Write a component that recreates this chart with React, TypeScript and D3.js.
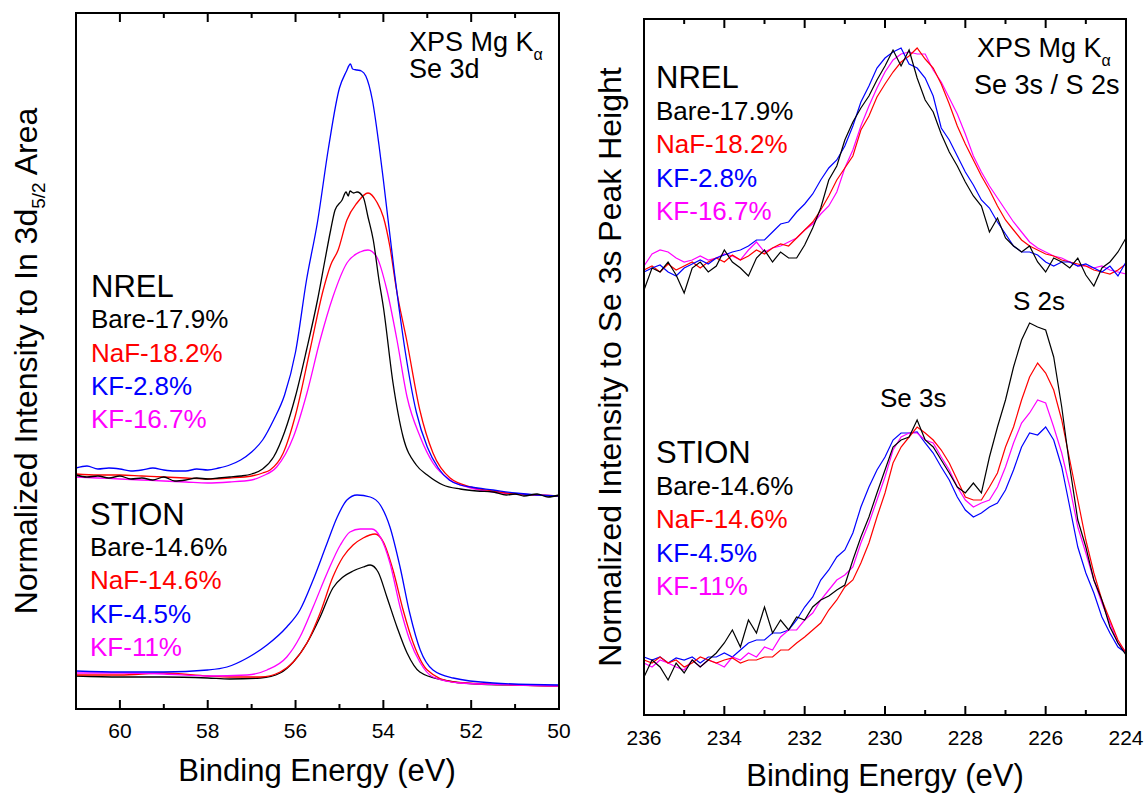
import React from "react";
import * as d3 from "d3";

const FONT = "Arial, 'Liberation Sans', Helvetica, sans-serif";
const C_BARE = "#000000";
const C_NAF = "#ff0000";
const C_KF_A = "#0000ff";
const C_KF_B = "#ff00ff";

// ---------- Left panel: Se 3d, [binding energy eV, normalized intensity (a.u., offset)] ----------
const nrelBare3d: [number, number][] = [
  [61, 234], [60.75, 232], [60.5, 233], [60.25, 231], [60, 233], [59.75, 230], [59.5, 231], [59.25, 229], [59, 232],
  [58.75, 228], [58.5, 229], [58.25, 231], [58, 230], [57.75, 231], [57.5, 232], [57.25, 233], [57, 235], [56.75, 240],
  [56.5, 252], [56.25, 277], [56, 313], [55.75, 359], [55.5, 409], [55.33, 449], [55.2, 479], [55.1, 499], [54.94, 509],
  [54.85, 517], [54.8, 513], [54.76, 518], [54.68, 516], [54.6, 517], [54.46, 512], [54.35, 492], [54.23, 469], [54.1, 429],
  [54, 402], [53.78, 326], [53.55, 272], [53.25, 244], [53, 234], [52.64, 224], [52.25, 220], [51.87, 218], [51.5, 217],
  [51.2, 214], [51, 215], [50.8, 213], [50.5, 215], [50.25, 212], [50, 214],
];
const nrelNaF3d: [number, number][] = [
  [61, 235], [60.5, 234], [60, 234], [59.5, 233], [59, 232], [58.5, 231], [58, 230], [57.5, 231], [57, 233], [56.75, 236],
  [56.58, 239], [56.28, 256], [56, 294], [55.67, 359], [55.37, 419], [55.2, 444], [55.03, 459], [54.83, 489], [54.6, 506],
  [54.35, 516], [54.15, 507], [54, 492], [53.85, 462], [53.7, 419], [53.47, 369], [53.17, 299], [52.87, 256], [52.48, 231],
  [52, 222], [51.5, 218], [51, 215], [50.5, 214], [50, 213],
];
const nrelKF28_3d: [number, number][] = [
  [61, 241], [60.75, 243], [60.5, 240], [60.25, 241], [60, 240], [59.75, 238], [59.5, 239], [59.25, 241], [59, 239],
  [58.75, 238], [58.5, 238], [58.25, 240], [58, 239], [57.75, 241], [57.5, 244], [57.25, 249], [57, 257], [56.75, 269],
  [56.5, 289], [56.25, 314], [56, 357], [55.75, 429], [55.5, 487], [55.25, 561], [55, 621], [54.85, 637], [54.75, 645],
  [54.7, 640], [54.6, 639], [54.5, 638], [54.4, 633], [54.25, 609], [54.1, 564], [54, 529], [53.75, 437], [53.5, 357],
  [53.25, 297], [53, 262], [52.75, 241], [52.5, 229], [52.25, 224], [52, 222], [51.5, 219], [51, 216], [50.5, 214], [50, 213],
];
const nrelKF167_3d: [number, number][] = [
  [61, 232], [60.5, 231], [60, 230], [59.5, 229], [59, 228], [58.5, 227], [58, 226], [57.5, 227], [57, 229], [56.75, 233],
  [56.43, 242], [56.05, 272], [55.74, 316], [55.44, 369], [55.15, 412], [54.83, 446], [54.53, 457], [54.35, 459], [54.15, 452],
  [53.92, 419], [53.69, 369], [53.46, 312], [53.16, 272], [52.87, 246], [52.48, 229], [52, 221], [51.5, 217], [51, 215],
  [50.5, 214], [50, 213],
];
const stionBare3d: [number, number][] = [
  [61, 33], [60, 32], [59, 32], [58, 31], [57.5, 30], [56.8, 31], [56.35, 36], [56.05, 47], [55.74, 66], [55.44, 92],
  [55.15, 121], [54.92, 132], [54.69, 138], [54.46, 142], [54.3, 144], [54.12, 137], [53.92, 112], [53.69, 82], [53.46, 56],
  [53.17, 37], [52.64, 29], [51.87, 25], [51, 24], [50, 23],
];
const stionNaF3d: [number, number][] = [
  [61, 34], [60, 34], [59, 36], [58, 33], [57.5, 32], [56.8, 32], [56.35, 37], [56.05, 47], [55.74, 66], [55.44, 96],
  [55.15, 132], [54.92, 152], [54.69, 164], [54.46, 171], [54.19, 175], [54, 167], [53.78, 139], [53.55, 99], [53.32, 66],
  [53, 39], [52.41, 27], [51, 24], [50, 23],
];
const stionKF45_3d: [number, number][] = [
  [61, 38], [60, 37], [59, 37], [58, 39], [57.56, 42], [57.1, 51], [56.65, 64], [56.2, 82], [55.9, 99], [55.6, 129],
  [55.28, 166], [55.05, 192], [54.83, 209], [54.6, 214], [54.3, 212], [54.07, 204], [53.85, 182], [53.62, 142], [53.4, 96],
  [53.16, 59], [52.87, 39], [52.41, 31], [51.5, 26], [50, 24],
];
const stionKF11_3d: [number, number][] = [
  [61, 36], [60, 36], [59, 35], [58, 33], [57.1, 34], [56.65, 39], [56.2, 52], [55.9, 72], [55.6, 102], [55.28, 136],
  [54.98, 164], [54.76, 177], [54.53, 180], [54.26, 180], [54.07, 172], [53.85, 146], [53.62, 102], [53.4, 69], [53.17, 47],
  [52.87, 32], [52.25, 26], [51, 24], [50, 23],
];

// ---------- Right panel: Se 3s / S 2s ----------
const energy3s = [
  236, 235.8, 235.6, 235.4, 235.2, 235, 234.8, 234.6, 234.4, 234.2, 234, 233.8, 233.6, 233.4, 233.2, 233, 232.8, 232.6,
  232.4, 232.2, 232, 231.8, 231.6, 231.4, 231.2, 231, 230.8, 230.6, 230.4, 230.2, 230, 229.8, 229.6, 229.4, 229.2, 229,
  228.8, 228.6, 228.4, 228.2, 228, 227.8, 227.6, 227.4, 227.2, 227, 226.8, 226.6, 226.4, 226.2, 226, 225.8, 225.6, 225.4,
  225.2, 225, 224.8, 224.6, 224.4, 224.2, 224,
];
const nrelBare3s = [
  425, 447, 443, 453, 440, 422, 447, 453, 443, 449, 465, 453, 447, 439, 457, 465, 453, 463, 457, 457,
  470, 487, 507, 535, 549, 575, 593, 607, 619, 635, 649, 665, 649, 665, 637, 615, 603, 581, 563, 549,
  533, 519, 509, 483, 497, 477, 469, 463, 469, 453, 443, 457, 453, 447, 457, 440, 429, 447, 453, 463, 477,
];
const nrelNaF3s = [
  445, 449, 443, 451, 445, 449, 453, 447, 453, 457, 453, 460, 455, 459, 465, 461, 467, 471, 469, 477,
  485, 493, 505, 519, 535, 547, 559, 585, 599, 618, 631, 643, 653, 659, 667, 656, 647, 631, 611, 589,
  571, 555, 539, 525, 509, 495, 485, 475, 469, 465, 461, 459, 455, 453, 451, 449, 445, 443, 441, 445, 451,
];
const nrelKF28_3s = [
  443, 447, 450, 443, 439, 447, 451, 455, 451, 457, 460, 463, 465, 469, 475, 475, 483, 491, 493, 503,
  511, 521, 535, 547, 555, 569, 589, 613, 629, 647, 657, 663, 667, 651, 647, 637, 619, 587, 575, 559,
  543, 530, 515, 507, 493, 481, 469, 463, 463, 460, 453, 449, 453, 453, 449, 451, 447, 443, 449, 439, 453,
];
const nrelKF167_3s = [
  449, 461, 465, 463, 457, 453, 455, 459, 455, 457, 461, 459, 455, 465, 473, 463, 467, 469, 473, 477,
  485, 491, 501, 509, 523, 547, 565, 589, 609, 627, 643, 655, 661, 663, 661, 661, 645, 633, 617, 601,
  581, 559, 543, 529, 517, 505, 493, 483, 473, 467, 463, 459, 457, 453, 449, 449, 447, 449, 445, 443, 441,
];
const stionBare3s = [
  38, 55, 48, 35, 52, 42, 55, 48, 55, 62, 72, 85, 68, 95, 82, 108, 82, 95, 85, 98,
  95, 108, 115, 119, 125, 130, 155, 178, 198, 222, 245, 268, 275, 278, 295, 275, 268, 255, 242, 228,
  222, 232, 222, 258, 288, 315, 348, 375, 392, 388, 385, 358, 308, 248, 195, 168, 135, 115, 88, 72, 60,
];
const stionNaF3s = [
  55, 52, 58, 52, 55, 48, 52, 58, 55, 52, 55, 57, 52, 55, 55, 58, 58, 65, 65, 72,
  78, 85, 92, 105, 115, 128, 135, 152, 172, 198, 222, 252, 268, 278, 288, 282, 275, 265, 252, 235,
  218, 215, 215, 228, 242, 268, 288, 315, 338, 352, 342, 325, 295, 255, 215, 175, 142, 115, 95, 75, 62,
];
const stionKF45_3s = [
  58, 55, 58, 52, 57, 55, 58, 52, 58, 58, 62, 58, 65, 72, 75, 75, 82, 82, 85, 95,
  108, 118, 135, 145, 158, 165, 182, 208, 228, 245, 258, 275, 282, 282, 283, 272, 262, 248, 235, 218,
  205, 198, 202, 208, 212, 225, 245, 268, 282, 280, 288, 275, 248, 208, 168, 142, 122, 98, 82, 68, 62,
];
const stionKF11_3s = [
  52, 48, 55, 52, 48, 45, 55, 48, 55, 52, 48, 58, 55, 62, 58, 68, 65, 78, 85, 85,
  95, 102, 115, 125, 135, 140, 148, 172, 192, 215, 238, 265, 278, 282, 282, 275, 272, 258, 245, 228,
  215, 208, 212, 215, 228, 248, 272, 292, 302, 315, 312, 288, 262, 228, 188, 162, 135, 112, 92, 72, 63,
];

// ---------- Axes / labels ----------
const leftMajorTicks = [60, 58, 56, 54, 52, 50];
const leftMinorTicks = [59, 57, 55, 53, 51];
const rightMajorTicks = [236, 234, 232, 230, 228, 226, 224];
const rightMinorTicks = [235, 233, 231, 229, 227, 225];

const nrelLabels = ["Bare-17.9%", "NaF-18.2%", "KF-2.8%", "KF-16.7%"];
const stionLabels = ["Bare-14.6%", "NaF-14.6%", "KF-4.5%", "KF-11%"];
const labelColors = [C_BARE, C_NAF, C_KF_A, C_KF_B];

type Scale = d3.ScaleLinear<number, number>;

function Frame({ x, y, majors, minors, labelY }: { x: Scale; y: Scale; majors: number[]; minors: number[]; labelY: number }) {
  const [x0, x1] = x.range();
  const [yb, yt] = y.range();
  return (
    <g>
      <rect x={x0} y={yt} width={x1 - x0} height={yb - yt} fill="none" stroke="#000" strokeWidth={2} />
      {majors.map((t) => (
        <g key={"M" + t}>
          <line x1={x(t)} x2={x(t)} y1={yb} y2={yb - 9} stroke="#000" strokeWidth={2} />
          <line x1={x(t)} x2={x(t)} y1={yt} y2={yt + 9} stroke="#000" strokeWidth={2} />
          <text x={x(t)} y={labelY} textAnchor="middle" fontSize={21} fontFamily={FONT}>
            {t}
          </text>
        </g>
      ))}
      {minors.map((t) => (
        <g key={"m" + t}>
          <line x1={x(t)} x2={x(t)} y1={yb} y2={yb - 5} stroke="#000" strokeWidth={2} />
          <line x1={x(t)} x2={x(t)} y1={yt} y2={yt + 5} stroke="#000" strokeWidth={2} />
        </g>
      ))}
    </g>
  );
}

function Legend({ x, yHead, ys, head, labels }: { x: number; yHead: number; ys: number[]; head: string; labels: string[] }) {
  return (
    <g fontFamily={FONT}>
      <text x={x} y={yHead} fontSize={31}>
        {head}
      </text>
      {labels.map((l, i) => (
        <text key={l} x={x} y={ys[i]} fontSize={26} fill={labelColors[i]}>
          {l}
        </text>
      ))}
    </g>
  );
}

export default function App() {
  const xL = d3.scaleLinear().domain([61, 50]).range([76, 559]);
  const yL = d3.scaleLinear().domain([0, 696]).range([709, 13]);
  const xR = d3.scaleLinear().domain([236, 224]).range([644, 1126]);
  const yR = d3.scaleLinear().domain([0, 696]).range([715, 19]);

  const lineL = d3
    .line<[number, number]>()
    .x((d) => xL(d[0]))
    .y((d) => yL(d[1]))
    .curve(d3.curveMonotoneX);
  const lineR = (vals: number[]) =>
    d3
      .line<number>()
      .x((_, i) => xR(energy3s[i]))
      .y((d) => yR(d))(vals) || "";

  const leftSeries: [[number, number][], string][] = [
    [nrelKF167_3d, C_KF_B],
    [nrelNaF3d, C_NAF],
    [nrelKF28_3d, C_KF_A],
    [nrelBare3d, C_BARE],
    [stionBare3d, C_BARE],
    [stionNaF3d, C_NAF],
    [stionKF11_3d, C_KF_B],
    [stionKF45_3d, C_KF_A],
  ];
  const rightSeries: [number[], string][] = [
    [nrelKF167_3s, C_KF_B],
    [nrelNaF3s, C_NAF],
    [nrelKF28_3s, C_KF_A],
    [nrelBare3s, C_BARE],
    [stionKF45_3s, C_KF_A],
    [stionKF11_3s, C_KF_B],
    [stionNaF3s, C_NAF],
    [stionBare3s, C_BARE],
  ];

  return (
    <svg
      width={1146}
      height={796}
      style={{ position: "absolute", left: 0, top: 0, background: "#fff" }}
      fontFamily={FONT}
    >
      <rect x={0} y={0} width={1146} height={796} fill="#fff" />
      {/* Left panel */}
      {leftSeries.map(([d, c], i) => (
        <path key={"L" + i} d={lineL(d) || ""} fill="none" stroke={c} strokeWidth={1.3} />
      ))}
      <Frame x={xL} y={yL} majors={leftMajorTicks} minors={leftMinorTicks} labelY={738} />
      <text x={409} y={51} fontSize={27}>
        XPS Mg K<tspan fontSize={16} dy={9}>α</tspan>
      </text>
      <text x={409} y={78} fontSize={27}>
        Se 3d
      </text>
      <Legend x={91} yHead={297} ys={[328, 362, 395, 428]} head="NREL" labels={nrelLabels} />
      <Legend x={90} yHead={525} ys={[556, 589, 623, 656]} head="STION" labels={stionLabels} />
      <text x={317} y={781} textAnchor="middle" fontSize={31}>
        Binding Energy (eV)
      </text>
      <text transform="translate(37,361) rotate(-90)" textAnchor="middle" fontSize={32}>
        Normalized Intensity to In 3d<tspan fontSize={19} dy={8}>5/2</tspan>
        <tspan dy={-8}> Area</tspan>
      </text>

      {/* Right panel */}
      {rightSeries.map(([d, c], i) => (
        <path key={"R" + i} d={lineR(d)} fill="none" stroke={c} strokeWidth={1.2} />
      ))}
      <Frame x={xR} y={yR} majors={rightMajorTicks} minors={rightMinorTicks} labelY={745} />
      <text x={977} y={57} fontSize={27}>
        XPS Mg K<tspan fontSize={16} dy={9}>α</tspan>
      </text>
      <text x={974} y={94} fontSize={27}>
        Se 3s / S 2s
      </text>
      <Legend x={656} yHead={88} ys={[120, 153, 187, 220]} head="NREL" labels={nrelLabels} />
      <Legend x={656} yHead={463} ys={[495, 528, 562, 595]} head="STION" labels={stionLabels} />
      <text x={1013} y={310} fontSize={26}>
        S 2s
      </text>
      <text x={880} y={407} fontSize={26}>
        Se 3s
      </text>
      <text x={885} y={786} textAnchor="middle" fontSize={31}>
        Binding Energy (eV)
      </text>
      <text transform="translate(621,367) rotate(-90)" textAnchor="middle" fontSize={32}>
        Normalized Intensity to Se 3s Peak Height
      </text>
    </svg>
  );
}
